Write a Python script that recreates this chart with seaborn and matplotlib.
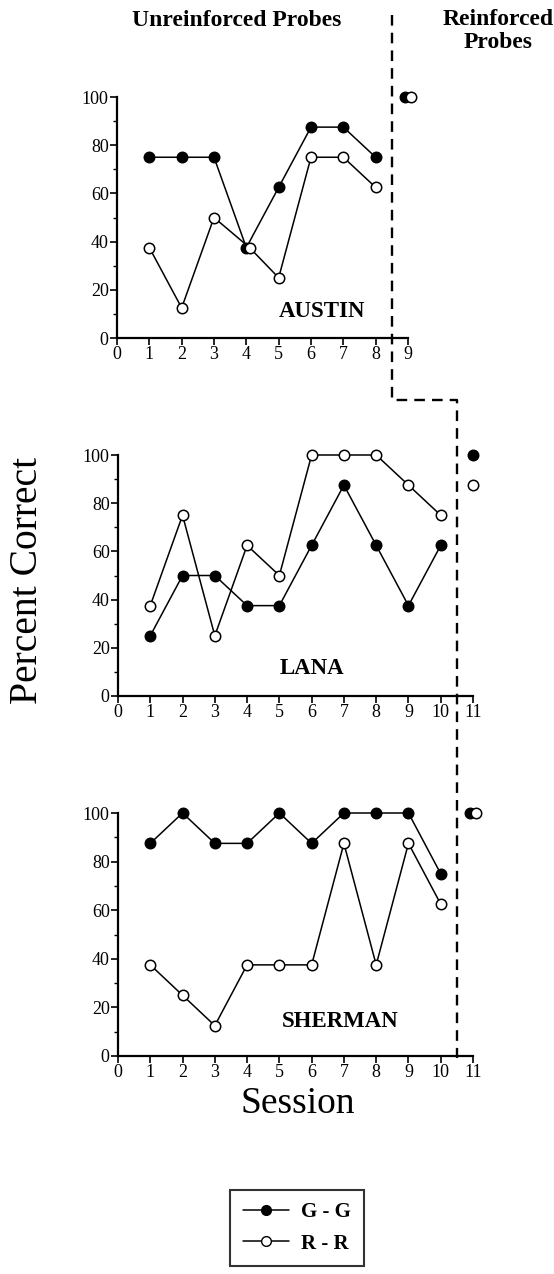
import matplotlib
matplotlib.use("Agg")
import matplotlib.pyplot as plt
from matplotlib.lines import Line2D
from matplotlib.ticker import MultipleLocator
import seaborn as sns

# session data (percent correct)
austin_sessions = [1, 2, 3, 4, 5, 6, 7, 8]
austin_rr_sessions = [1, 2, 3, 4.1, 5, 6, 7, 8]
austin_gg = [75, 75, 75, 37.5, 62.5, 87.5, 87.5, 75]
austin_rr = [37.5, 12.5, 50, 37.5, 25, 75, 75, 62.5]
austin_reinf_x = [8.9, 9.1]
austin_reinf = [100, 100]

lana_sessions = [1, 2, 3, 4, 5, 6, 7, 8, 9, 10]
lana_gg = [25, 50, 50, 37.5, 37.5, 62.5, 87.5, 62.5, 37.5, 62.5]
lana_rr = [37.5, 75, 25, 62.5, 50, 100, 100, 100, 87.5, 75]
lana_reinf_x = [11, 11]
lana_reinf = [100, 87.5]

sherman_sessions = [1, 2, 3, 4, 5, 6, 7, 8, 9, 10]
sherman_gg = [87.5, 100, 87.5, 87.5, 100, 87.5, 100, 100, 100, 75]
sherman_rr = [37.5, 25, 12.5, 37.5, 37.5, 37.5, 87.5, 37.5, 87.5, 62.5]
sherman_reinf_x = [10.9, 11.1]
sherman_reinf = [100, 100]

sns.set_style("ticks")
plt.rcParams["font.family"] = ["Liberation Serif", "DejaVu Serif"]
plt.rcParams["text.color"] = "black"
plt.rcParams["axes.labelcolor"] = "black"
plt.rcParams["xtick.color"] = "black"
plt.rcParams["ytick.color"] = "black"
plt.rcParams["axes.edgecolor"] = "black"

W, H = 554, 1274
fig = plt.figure(figsize=(W / 100, H / 100), dpi=100)


def make_axes(left, top, right, bottom, xmax):
    ax = fig.add_axes([left / W, 1 - bottom / H, (right - left) / W, (bottom - top) / H])
    ax.set_xlim(0, xmax)
    ax.set_ylim(0, 100)
    return ax


ax1 = make_axes(117, 97, 408, 338, 9)
ax2 = make_axes(118, 455, 473, 696, 11)
ax3 = make_axes(118, 813, 473, 1056, 11)

mk = dict(marker="o", markersize=7.5, markeredgecolor="black", markeredgewidth=1.1,
          color="black", lw=1.1, clip_on=False, legend=False)


def panel(ax, xg, gg, xr, rr, rx, ry, name, lx, ly, xmax):
    sns.lineplot(x=xg, y=gg, ax=ax, markerfacecolor="black", sort=False, **mk)
    sns.lineplot(x=xr, y=rr, ax=ax, markerfacecolor="white", sort=False, **mk)
    faces = ["black", "white"]
    for px, py, fc in zip(rx, ry, faces):
        ax.plot([px], [py], "o", markersize=7.5, markerfacecolor=fc,
                markeredgecolor="black", markeredgewidth=1.1, clip_on=False)
    ax.text(lx, ly, name, ha="center", va="center", fontsize=16.5, fontweight="bold")
    sns.despine(ax=ax)
    for s in ["left", "bottom"]:
        ax.spines[s].set_linewidth(1.6)
    ax.set_xticks(range(0, xmax + 1))
    ax.yaxis.set_major_locator(MultipleLocator(20))
    ax.yaxis.set_minor_locator(MultipleLocator(10))
    ax.tick_params(which="major", length=5, width=1.2, labelsize=13, pad=1, colors="black")
    ax.tick_params(which="minor", axis="y", length=3, width=1.0, colors="black")
    ax.set_facecolor("white")


panel(ax1, austin_sessions, austin_gg, austin_rr_sessions, austin_rr,
      austin_reinf_x, austin_reinf, "AUSTIN", 6.35, 11, 9)
panel(ax2, lana_sessions, lana_gg, lana_sessions, lana_rr,
      lana_reinf_x, lana_reinf, "LANA", 6.0, 11.5, 11)
panel(ax3, sherman_sessions, sherman_gg, sherman_sessions, sherman_rr,
      sherman_reinf_x, sherman_reinf, "SHERMAN", 6.9, 14, 11)

# phase-change dashed line across panels
fig.canvas.draw()
inv = fig.transFigure.inverted()
x_a = inv.transform(ax1.transData.transform((8.5, 0)))[0]
x_b = inv.transform(ax2.transData.transform((10.5, 0)))[0]
y_top = 1 - 15 / H
y_step = 1 - 400 / H
y_end = 1 - 1058 / H
fig.add_artist(Line2D([x_a, x_a, x_b, x_b], [y_top, y_step, y_step, y_end],
                      transform=fig.transFigure, color="black", lw=1.7,
                      linestyle=(0, (4.5, 3))))

fig.text(237 / W, 1 - 20 / H, "Unreinforced Probes", ha="center", va="center",
         fontsize=17, fontweight="bold")
fig.text(498 / W, 1 - 31 / H, "Reinforced\nProbes", ha="center", va="center",
         fontsize=17, fontweight="bold", linespacing=1.1)
fig.text(28 / W, 1 - 580 / H, "Percent Correct", rotation=90, ha="center",
         va="center", fontsize=28.5)
fig.text(298 / W, 1 - 1104 / H, "Session", ha="center", va="center", fontsize=27)

handles = [
    Line2D([], [], color="black", lw=1.1, marker="o", markersize=7,
           markerfacecolor="black", markeredgecolor="black"),
    Line2D([], [], color="black", lw=1.1, marker="o", markersize=7,
           markerfacecolor="white", markeredgecolor="black"),
]
leg = fig.legend(handles, ["G - G", "R - R"], loc="center",
                 bbox_to_anchor=(297 / W, 1 - 1228 / H), frameon=True,
                 fancybox=False, edgecolor="black", handlelength=2.2,
                 borderpad=0.6, labelspacing=0.55, handletextpad=0.6,
                 borderaxespad=0, prop={"weight": "bold", "size": 15})
leg.get_frame().set_linewidth(1.5)
for t in leg.get_texts():
    t.set_color("black")

fig.savefig("out.png", dpi=100, facecolor="white")
